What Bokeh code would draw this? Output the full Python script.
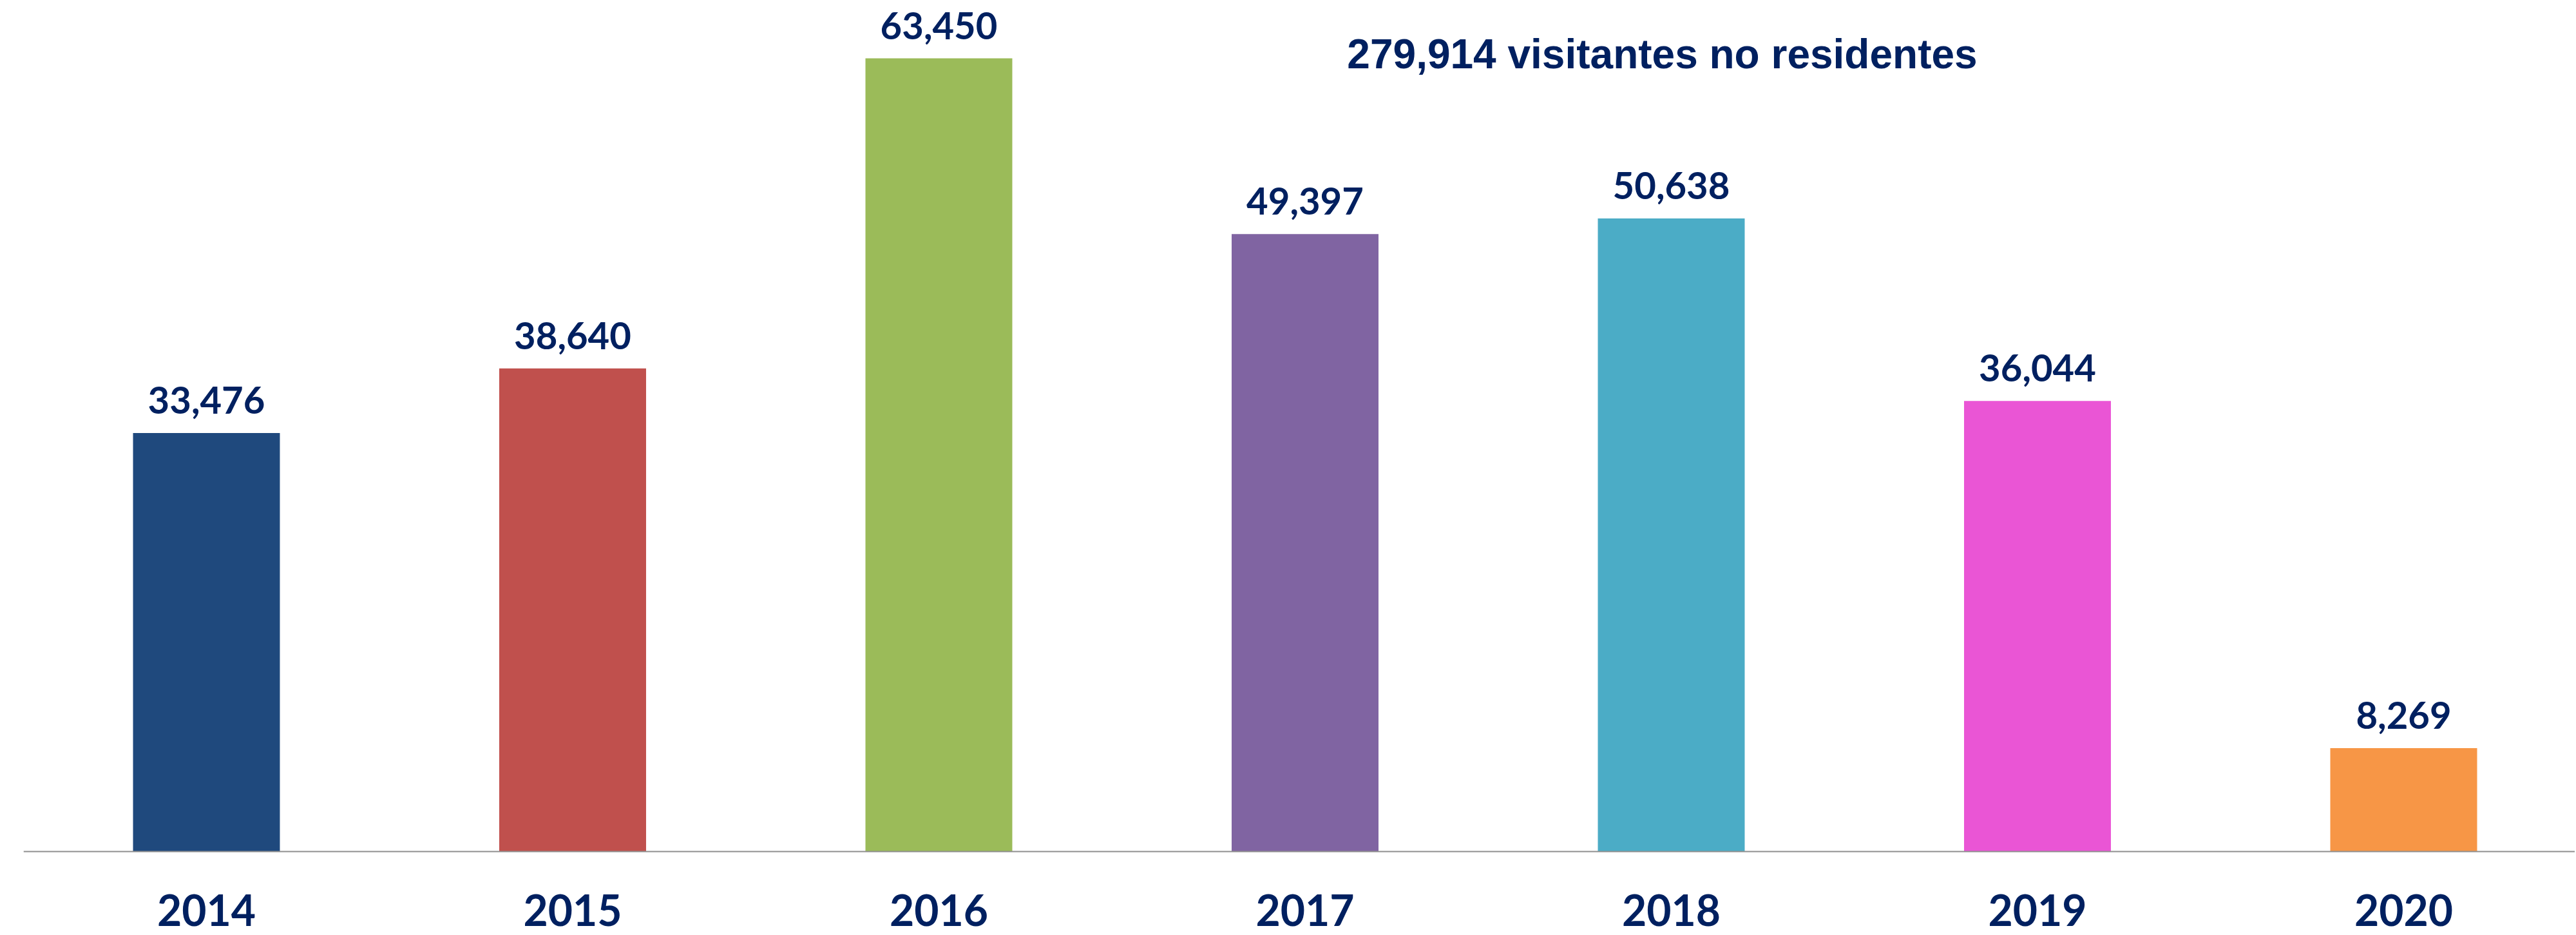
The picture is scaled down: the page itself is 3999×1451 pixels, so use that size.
from bokeh.plotting import figure
from bokeh.models import ColumnDataSource, Range1d, Label, Span
from bokeh.core.properties import value
from bokeh.transform import dodge
from bokeh.embed import file_html
from bokeh.resources import INLINE

years = ["2014", "2015", "2016", "2017", "2018", "2019", "2020"]
visitors = [33476, 38640, 63450, 49397, 50638, 36044, 8269]
colors = ["#1F497D", "#C0504D", "#9BBB59", "#8064A2", "#4BACC6", "#EA55D5", "#F79646"]
total_text = "279,914 visitantes no residentes"

TEXT = "#002060"
PX = 0.019401          # pixels per visitor
BASE = 1321            # y pixel of baseline on canvas
H = 1451
W = 3997
LEFT = 36
STEP = 568.5
pos = list(range(len(years)))
src = ColumnDataSource(dict(
    x=pos, top=visitors, color=colors, base=[0] * len(years), year=years,
    label=[f"{v:,}" for v in visitors],
))

x0 = -(320 - LEFT) / STEP
p = figure(
    width=W, height=H,
    x_range=Range1d(x0, x0 + (W - LEFT) / STEP),
    y_range=Range1d(-(H - BASE) / PX, BASE / PX),
    output_backend="svg", toolbar_location=None,
    min_border_left=LEFT, min_border_right=0, min_border_top=0, min_border_bottom=0,
    x_axis_location=None, y_axis_location=None,
)
p.outline_line_color = None
p.xgrid.visible = False
p.ygrid.visible = False

p.vbar(x="x", top="top", bottom=0, width=0.401, fill_color="color", line_color=None, source=src)

p.add_layout(Span(location=0, dimension="width", line_color="#8f8f8f", line_width=2))

p.text(x="x", y=dodge("top", 51 / PX), text="label", source=src,
       text_align="center", text_baseline="alphabetic",
       text_font=value("Lato"), text_font_style="bold", text_font_size="58px",
       text_color=TEXT)

p.text(x="x", y=dodge("base", -91 / PX), text="year", source=src,
       text_align="center", text_baseline="alphabetic",
       text_font=value("Lato"), text_font_style="bold", text_font_size="66px",
       text_color=TEXT)

title = Label(x=(2580 - LEFT) / STEP + x0, y=(BASE - 83) / PX,
              text=total_text, text_align="center", text_baseline="alphabetic",
              text_font="Liberation Sans", text_font_style="bold", text_font_size="64px",
              text_color=TEXT)
p.add_layout(title)

open("out.html", "w").write(file_html(p, INLINE))
